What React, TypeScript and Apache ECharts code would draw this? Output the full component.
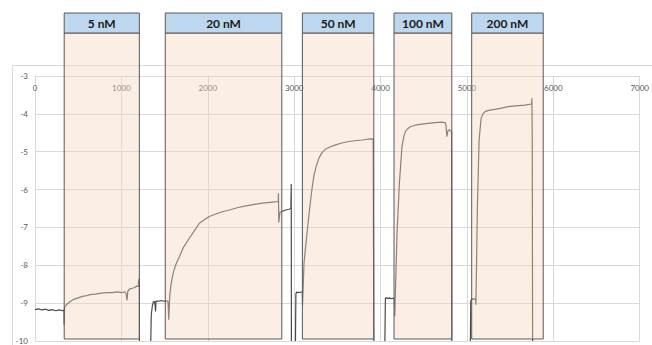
import React, { useEffect, useRef } from "react";
import * as echarts from "echarts";

// Time axis (s) ticks and response axis (log) ticks
const xTicks = [0, 1000, 2000, 3000, 4000, 5000, 6000, 7000];
const yTicks = [-10, -9, -8, -7, -6, -5, -4, -3];

// Injection windows
const bandLabels = ["5 nM", "20 nM", "50 nM", "100 nM", "200 nM"];
const bandStart = [338, 1508, 3095, 4156, 5055];
const bandEnd = [1208, 2857, 3922, 4825, 5883];

// Sensor trace (null = gap)
const traceX = [
  0, 40, 80, 120, 160, 200, 240, 280, 320, 336, 338, 342, 360, 400, 450, 500, 550, 600, 650, 700, 750, 800, 850, 900, 950, 1000, 1040, 1055, 1065, 1075, 1100, 1140, 1180, 1195, 1200, 1205, 1208, 1209,
  1250,
  1340, 1346, 1360, 1370, 1385, 1396, 1400, 1410, 1430, 1460, 1490, 1520, 1540, 1545, 1548, 1560, 1577, 1600, 1630, 1672, 1720, 1788, 1850, 1903, 1960, 2018, 2100, 2180, 2249, 2340, 2441, 2540, 2633, 2720, 2806, 2816, 2818, 2822, 2835, 2857, 2900, 2940, 2962, 2966, 2968,
  2990,
  3015, 3020, 3030, 3060, 3090, 3095, 3097, 3114, 3133, 3153, 3172, 3191, 3210, 3230, 3260, 3287, 3320, 3364, 3420, 3480, 3550, 3633, 3700, 3787, 3850, 3915, 3920, 3922,
  3980,
  4050, 4056, 4065, 4080, 4100, 4120, 4150, 4160, 4164, 4191, 4218, 4248, 4270, 4287, 4310, 4345, 4400, 4479, 4550, 4633, 4700, 4749, 4758, 4767, 4780, 4795, 4810, 4822, 4825,
  4900,
  5040, 5044, 5055, 5070, 5090, 5100, 5104, 5121, 5141, 5164, 5185, 5210, 5260, 5325, 5400, 5479, 5560, 5671, 5748, 5752, 5756, 5758, 5760,
];
const traceY = [
  -9.17, -9.15, -9.18, -9.16, -9.19, -9.17, -9.2, -9.18, -9.2, -9.18, -9.57, -9.1, -9.05, -8.97, -8.9, -8.86, -8.82, -8.8, -8.77, -8.76, -8.74, -8.73, -8.72, -8.72, -8.7, -8.72, -8.7, -8.75, -8.93, -8.68, -8.62, -8.6, -8.55, -8.56, -8.4, -8.35, -8.5, -10,
  null,
  -10, -9.3, -9.05, -8.97, -8.95, -9.22, -8.96, -8.94, -8.95, -8.93, -8.95, -8.94, -8.95, -8.96, -9.44, -8.8, -8.47, -8.2, -7.98, -7.77, -7.52, -7.28, -7.07, -6.89, -6.8, -6.71, -6.64, -6.58, -6.54, -6.48, -6.43, -6.39, -6.36, -6.34, -6.32, -6.3, -6.1, -6.87, -6.6, -6.58, -6.54, -6.52, -6.5, -5.85, -10,
  null,
  -10, -8.75, -8.71, -8.72, -8.7, -8.72, -9.05, -7.94, -7.5, -7.06, -6.65, -6.27, -5.92, -5.61, -5.35, -5.17, -5.03, -4.93, -4.87, -4.82, -4.77, -4.73, -4.71, -4.69, -4.67, -4.66, -4.65, -10,
  null,
  -10, -8.88, -8.85, -8.88, -8.86, -8.88, -8.87, -8.9, -9.35, -7.15, -5.83, -4.86, -4.6, -4.47, -4.4, -4.34, -4.3, -4.27, -4.25, -4.23, -4.22, -4.23, -4.3, -4.6, -4.45, -4.42, -4.45, -4.47, -10,
  null,
  -10, -8.95, -8.88, -8.9, -8.88, -8.9, -9.04, -6.45, -4.69, -4.12, -4.0, -3.94, -3.9, -3.88, -3.85, -3.81, -3.79, -3.77, -3.74, -3.59, -4.73, -4.73, -10,
];

export default function App() {
  const ref = useRef<HTMLDivElement>(null);
  useEffect(() => {
    if (!ref.current) return;
    const chart = echarts.init(ref.current, null, { renderer: "svg" });
    const data = traceX.map((x, i) => [x, traceY[i] === null ? "-" : traceY[i]]);
    chart.setOption({
      animation: false,
      grid: { left: 35, right: 10, top: 76, bottom: 3 },
      xAxis: {
        type: "value",
        position: "top",
        min: xTicks[0],
        max: xTicks[xTicks.length - 1],
        interval: 1000,
        axisLine: { show: true, lineStyle: { color: "#d9d9d9" } },
        axisTick: { show: false },
        axisLabel: {
          inside: true,
          margin: 8,
          color: "#595959",
          fontSize: 8,
          fontFamily: "Lato",
          formatter: (v: number) => String(v),
        },
        splitLine: { show: true, lineStyle: { color: "#d9d9d9", width: 1 } },
      },
      yAxis: {
        type: "value",
        min: yTicks[0],
        max: yTicks[yTicks.length - 1],
        interval: 1,
        axisLine: { show: true, lineStyle: { color: "#d9d9d9" } },
        axisTick: { show: false },
        axisLabel: {
          color: "#595959",
          fontSize: 8,
          fontFamily: "Lato",
          margin: 7,
          formatter: (v: number) => String(v),
        },
        splitLine: { show: true, lineStyle: { color: "#d9d9d9", width: 1 } },
      },
      series: [
        {
          type: "line",
          data,
          showSymbol: false,
          symbol: "none",
          connectNulls: false,
          clip: true,
          lineStyle: { color: "#4a4a4a", width: 1.2 },
        },
      ],
    });

    const graphic: any[] = [
      {
        type: "rect",
        shape: { x: 12.5, y: 65.5, width: 660, height: 300 },
        style: { fill: "none", stroke: "#d9d9d9", lineWidth: 1 },
        z: 1,
        silent: true,
      },
    ];
    bandLabels.forEach((label, i) => {
      const x0 = chart.convertToPixel({ xAxisIndex: 0 }, bandStart[i]) as number;
      const x1 = chart.convertToPixel({ xAxisIndex: 0 }, bandEnd[i]) as number;
      graphic.push({
        type: "rect",
        shape: { x: x0, y: 33, width: x1 - x0, height: 306 },
        style: { fill: "rgba(245,215,190,0.4)", stroke: "#595959", lineWidth: 1 },
        z: 10,
        silent: true,
      });
      graphic.push({
        type: "rect",
        shape: { x: x0, y: 13, width: x1 - x0, height: 20 },
        style: { fill: "#bdd7ee", stroke: "#595959", lineWidth: 1 },
        z: 11,
        silent: true,
      });
      graphic.push({
        type: "text",
        x: (x0 + x1) / 2,
        y: 23,
        style: {
          text: label,
          fill: "#1a1a1a",
          font: "bold 12px Lato",
          align: "center",
          verticalAlign: "middle",
        },
        z: 12,
        silent: true,
      });
    });
    chart.setOption({ graphic });
    return () => chart.dispose();
  }, []);
  return (
    <div
      ref={ref}
      style={{ position: "absolute", left: 0, top: 0, width: 652, height: 345, background: "#fff" }}
    />
  );
}
